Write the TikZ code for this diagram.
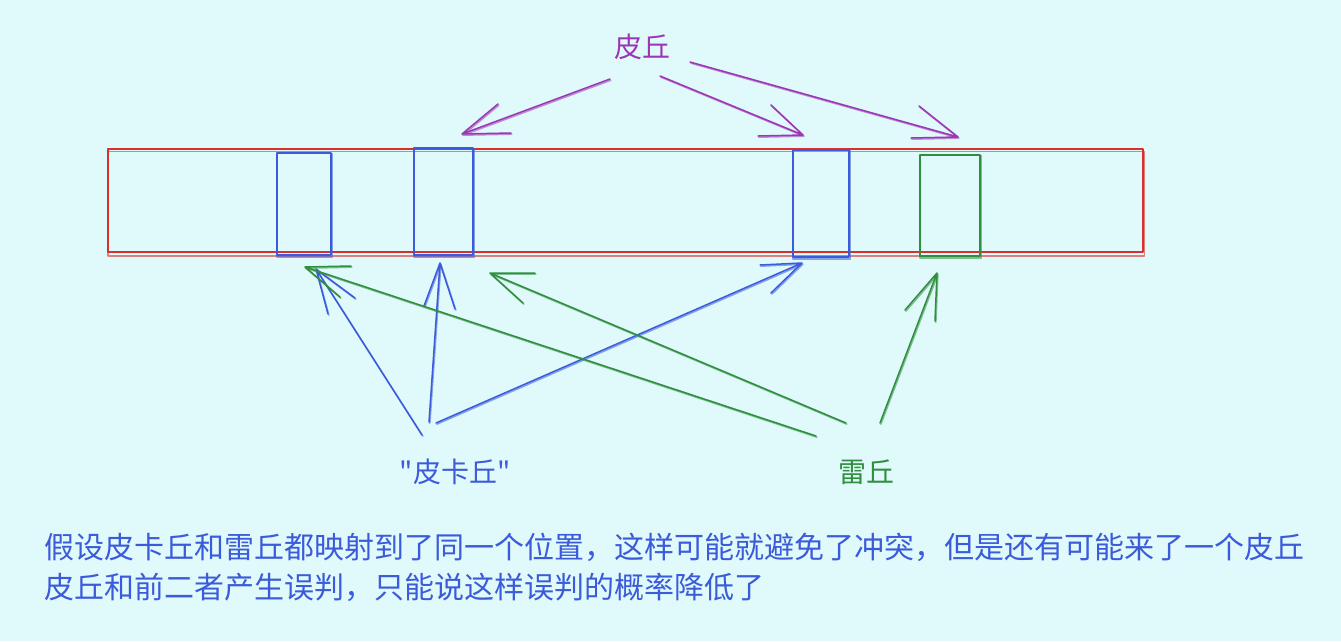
\documentclass[tikz,border=0pt]{standalone}
\usepackage{fontspec}
\newfontfamily\cjk{Noto Sans CJK SC}
\definecolor{bg}{HTML}{E0F9FB}
\definecolor{skred}{HTML}{D9302C}
\definecolor{skblue}{HTML}{3B5BDB}
\definecolor{skgreen}{HTML}{2F8F3F}
\definecolor{skpurple}{HTML}{9C36B5}
\newcommand{\skarr}[5]{%
  \draw[sk,#1] (#2) -- (#3) (#4) -- (#3) -- (#5);
  \draw[ghost,#1] (#2) -- (#3) (#4) -- (#3) -- (#5);}
\begin{document}
\begin{tikzpicture}[x=1pt,y=-1pt,
  sk/.style={line width=1.5pt, line cap=round, line join=round},
  ghost/.style={sk, opacity=0.55, transform canvas={shift={(0.9pt,-1.2pt)}}},
  box/.style={draw, sk, rectangle, inner sep=0pt},
  lbl/.style={font=\cjk\fontsize{28}{30}\selectfont, inner sep=0pt},
  body/.style={font=\cjk\fontsize{30}{32}\selectfont, text=skblue, inner sep=0pt, anchor=west}]
\fill[bg] (0,0) rectangle (1341,641);
\useasboundingbox (0,0) rectangle (1341,641);

% main bar
\node[box, draw=skred, minimum width=1035pt, minimum height=103pt] (bar) at (625.5,200.5) {};
\draw[sk, skred, opacity=0.6, transform canvas={shift={(0.5pt,-3pt)}}] (bar.north west) rectangle (bar.south east);

% slots
\node[box, draw=skblue, minimum width=54pt, minimum height=102pt] (b1) at (304,204) {};
\node[box, draw=skblue, minimum width=59pt, minimum height=107pt] (b2) at (443.5,201.5) {};
\node[box, draw=skblue, minimum width=56pt, minimum height=107pt] (b3) at (821,203.5) {};
\node[box, draw=skgreen, minimum width=60pt, minimum height=101pt] (g1) at (950,205.5) {};
\draw[ghost, skblue] (b1.north west) rectangle (b1.south east);
\draw[ghost, skblue] (b2.north west) rectangle (b2.south east);
\draw[ghost, skblue] (b3.north west) rectangle (b3.south east);
\draw[ghost, skgreen] (g1.north west) rectangle (g1.south east);

% labels
\node[lbl, text=skpurple] (pq) at (642,47) {皮丘};
\node[lbl, text=skblue] (pkq) at (455,472) {"皮卡丘"};
\node[lbl, text=skgreen] (lq) at (866,472) {雷丘};

% coordinates
\coordinate (p1s) at (610,79);  \coordinate (p1t) at (462,134); \coordinate (p1a) at (498,104); \coordinate (p1b) at (511,133);
\coordinate (p2s) at (660,76);  \coordinate (p2t) at (803,135); \coordinate (p2a) at (771,105); \coordinate (p2b) at (758,136);
\coordinate (p3s) at (690,62);  \coordinate (p3t) at (958,137); \coordinate (p3a) at (919,106); \coordinate (p3b) at (911,138);

\coordinate (bAs) at (422,435); \coordinate (bAt) at (316,269); \coordinate (bAa) at (328,314); \coordinate (bAb) at (355,298);
\coordinate (bBs) at (429,422); \coordinate (bBt) at (440,263); \coordinate (bBa) at (424,306); \coordinate (bBb) at (455,309);
\coordinate (bCs) at (436,423); \coordinate (bCt) at (802,263); \coordinate (bCa) at (760,265); \coordinate (bCb) at (771,293);

\coordinate (gDs) at (816,436); \coordinate (gDt) at (305,267); \coordinate (gDa) at (351,266); \coordinate (gDb) at (340,297);
\coordinate (gEs) at (846,423); \coordinate (gEt) at (490,273); \coordinate (gEa) at (535,273); \coordinate (gEb) at (523,303);
\coordinate (gFs) at (880,423); \coordinate (gFt) at (937,273); \coordinate (gFa) at (905,310); \coordinate (gFb) at (935,321);

% arrows
\skarr{skpurple}{p1s}{p1t}{p1a}{p1b}
\skarr{skpurple}{p2s}{p2t}{p2a}{p2b}
\skarr{skpurple}{p3s}{p3t}{p3a}{p3b}
\skarr{skblue}{bAs}{bAt}{bAa}{bAb}
\skarr{skblue}{bBs}{bBt}{bBa}{bBb}
\skarr{skblue}{bCs}{bCt}{bCa}{bCb}
\skarr{skgreen}{gDs}{gDt}{gDa}{gDb}
\skarr{skgreen}{gEs}{gEt}{gEa}{gEb}
\skarr{skgreen}{gFs}{gFt}{gFa}{gFb}

% text
\node[body] (t1) at (44,547) {假设皮卡丘和雷丘都映射到了同一个位置，这样可能就避免了冲突，但是还有可能来了一个皮丘};
\node[body] (t2) at (44,587) {皮丘和前二者产生误判，只能说这样误判的概率降低了};
\end{tikzpicture}
\end{document}
